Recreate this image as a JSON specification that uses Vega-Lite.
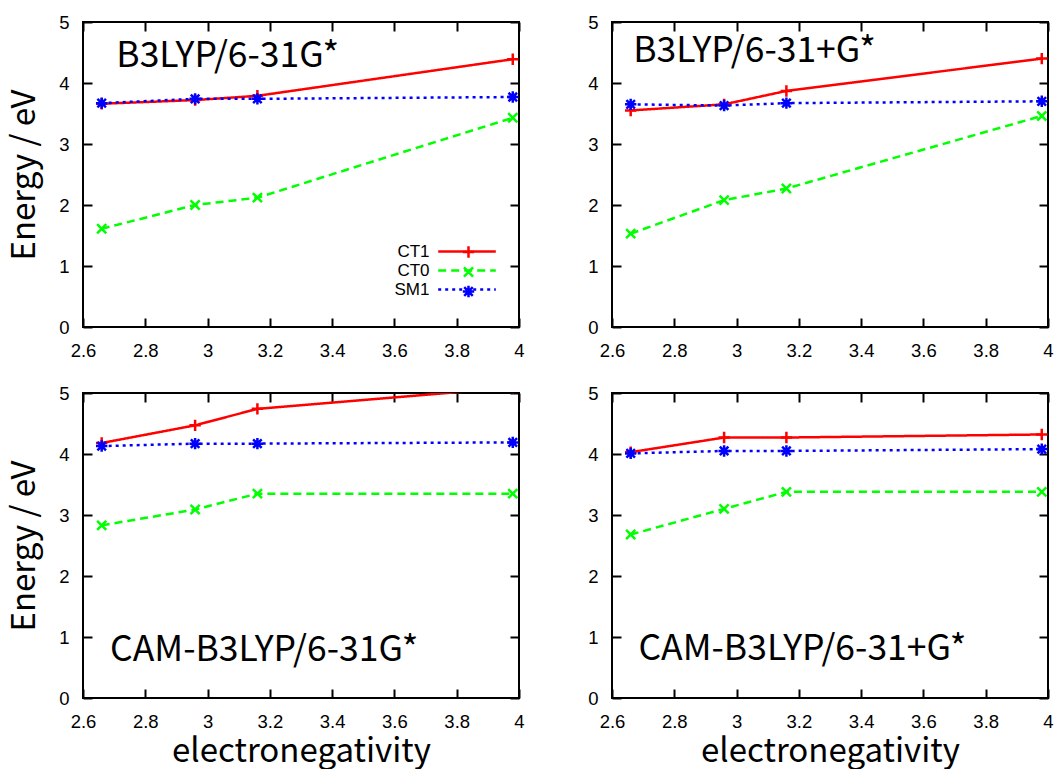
{
  "$schema": "https://vega.github.io/schema/vega-lite/v6.json",
  "background": "white",
  "padding": {"left": 7, "top": 12, "right": 0, "bottom": 0},
  "datasets": {
    "energies": [
      {"panel": "a", "series": "CT1", "x": 2.66, "energy": 3.66},
      {"panel": "a", "series": "CT1", "x": 2.96, "energy": 3.72},
      {"panel": "a", "series": "CT1", "x": 3.16, "energy": 3.79},
      {"panel": "a", "series": "CT1", "x": 3.98, "energy": 4.39},
      {"panel": "a", "series": "CT0", "x": 2.66, "energy": 1.61},
      {"panel": "a", "series": "CT0", "x": 2.96, "energy": 2.00},
      {"panel": "a", "series": "CT0", "x": 3.16, "energy": 2.12},
      {"panel": "a", "series": "CT0", "x": 3.98, "energy": 3.43},
      {"panel": "a", "series": "SM1", "x": 2.66, "energy": 3.67},
      {"panel": "a", "series": "SM1", "x": 2.96, "energy": 3.74},
      {"panel": "a", "series": "SM1", "x": 3.16, "energy": 3.74},
      {"panel": "a", "series": "SM1", "x": 3.98, "energy": 3.77},
      {"panel": "b", "series": "CT1", "x": 2.66, "energy": 3.55},
      {"panel": "b", "series": "CT1", "x": 2.96, "energy": 3.65},
      {"panel": "b", "series": "CT1", "x": 3.16, "energy": 3.87},
      {"panel": "b", "series": "CT1", "x": 3.98, "energy": 4.40},
      {"panel": "b", "series": "CT0", "x": 2.66, "energy": 1.53},
      {"panel": "b", "series": "CT0", "x": 2.96, "energy": 2.08},
      {"panel": "b", "series": "CT0", "x": 3.16, "energy": 2.27},
      {"panel": "b", "series": "CT0", "x": 3.98, "energy": 3.46},
      {"panel": "b", "series": "SM1", "x": 2.66, "energy": 3.65},
      {"panel": "b", "series": "SM1", "x": 2.96, "energy": 3.63},
      {"panel": "b", "series": "SM1", "x": 3.16, "energy": 3.67},
      {"panel": "b", "series": "SM1", "x": 3.98, "energy": 3.70},
      {"panel": "c", "series": "CT1", "x": 2.66, "energy": 4.18},
      {"panel": "c", "series": "CT1", "x": 2.96, "energy": 4.47},
      {"panel": "c", "series": "CT1", "x": 3.16, "energy": 4.74},
      {"panel": "c", "series": "CT1", "x": 3.98, "energy": 5.09},
      {"panel": "c", "series": "CT0", "x": 2.66, "energy": 2.83},
      {"panel": "c", "series": "CT0", "x": 2.96, "energy": 3.09},
      {"panel": "c", "series": "CT0", "x": 3.16, "energy": 3.35},
      {"panel": "c", "series": "CT0", "x": 3.98, "energy": 3.35},
      {"panel": "c", "series": "SM1", "x": 2.66, "energy": 4.13},
      {"panel": "c", "series": "SM1", "x": 2.96, "energy": 4.17},
      {"panel": "c", "series": "SM1", "x": 3.16, "energy": 4.17},
      {"panel": "c", "series": "SM1", "x": 3.98, "energy": 4.19},
      {"panel": "d", "series": "CT1", "x": 2.66, "energy": 4.03},
      {"panel": "d", "series": "CT1", "x": 2.96, "energy": 4.27},
      {"panel": "d", "series": "CT1", "x": 3.16, "energy": 4.27},
      {"panel": "d", "series": "CT1", "x": 3.98, "energy": 4.32},
      {"panel": "d", "series": "CT0", "x": 2.66, "energy": 2.68},
      {"panel": "d", "series": "CT0", "x": 2.96, "energy": 3.10},
      {"panel": "d", "series": "CT0", "x": 3.16, "energy": 3.38},
      {"panel": "d", "series": "CT0", "x": 3.98, "energy": 3.38},
      {"panel": "d", "series": "SM1", "x": 2.66, "energy": 4.01},
      {"panel": "d", "series": "SM1", "x": 2.96, "energy": 4.05},
      {"panel": "d", "series": "SM1", "x": 3.16, "energy": 4.05},
      {"panel": "d", "series": "SM1", "x": 3.98, "energy": 4.08}
    ]
  },
  "config": {
    "view": {"stroke": "black", "strokeWidth": 2},
    "axis": {
      "domain": false, "grid": false, "ticks": true,
      "tickColor": "black", "tickWidth": 2, "tickSize": -9,
      "labelFont": "Liberation Sans", "labelFontSize": 18.5, "labelColor": "black",
      "labelPadding": 23, "labelFlush": false, "labelOverlap": false,
      "titleFont": "Noto Sans CJK JP", "titleFontSize": 33, "titleFontWeight": "normal", "titleColor": "black"
    },
    "axisY": {"titlePadding": 17},
    "axisX": {"titlePadding": 5},
    "text": {"font": "Noto Sans CJK JP"}
  },
  "columns": 2,
  "spacing": {"row": 66, "column": 93},
  "bounds": "flush",
  "resolve": {"legend": {"shape": "independent", "stroke": "independent"}},
  "concat": [
    {
      "width": 436, "height": 305,
      "layer": [
        {
          "data": {"name": "energies"},
          "transform": [{"filter": "datum.panel === 'a'"}],
          "mark": {"type": "line", "strokeWidth": 2.5, "clip": true, "strokeCap": "butt"},
          "encoding": {
            "x": {"field": "x", "type": "quantitative", "scale": {"domain": [2.6, 4]}, "axis": {"orient": "bottom", "values": [2.6, 2.8, 3, 3.2, 3.4, 3.6, 3.8, 4], "format": "~g", "title": null}},
            "y": {"field": "energy", "type": "quantitative", "scale": {"domain": [0, 5]}, "axis": {"orient": "left", "values": [0, 1, 2, 3, 4, 5], "title": "Energy / eV"}},
            "color": {"field": "series", "type": "nominal", "scale": {"domain": ["CT1", "CT0", "SM1"], "range": ["#ff0000", "#00ff00", "#0000ff"]},
              "legend": {"orient": "none", "legendX": 374.5, "legendY": 220, "title": null, "direction": "vertical", "symbolType": "M-3.6,0H3.6", "symbolSize": 256, "symbolStrokeWidth": 2.5, "labelAlign": "right", "labelOffset": -47, "labelFontSize": 17, "labelFont": "Liberation Sans", "labelColor": "black", "rowPadding": 1, "padding": 0}},
            "strokeDash": {"field": "series", "type": "nominal", "scale": {"domain": ["CT1", "CT0", "SM1"], "range": [[1, 0], [8, 5], [3, 4]]},
              "legend": {"orient": "none", "legendX": 374.5, "legendY": 220, "title": null, "direction": "vertical", "symbolType": "M-3.6,0H3.6", "symbolSize": 256, "symbolStrokeWidth": 2.5, "labelAlign": "right", "labelOffset": -47, "labelFontSize": 17, "labelFont": "Liberation Sans", "labelColor": "black", "rowPadding": 1, "padding": 0}}
          }
        },
        {
          "data": {"name": "energies"},
          "transform": [{"filter": "datum.panel === 'a'"}],
          "mark": {"type": "point", "filled": false, "strokeWidth": 2.5, "size": 130, "clip": true, "opacity": 1},
          "encoding": {
            "x": {"field": "x", "type": "quantitative", "axis": {"orient": "top", "values": [2.6, 2.8, 3, 3.2, 3.4, 3.6, 3.8, 4], "labels": false, "title": null}},
            "y": {"field": "energy", "type": "quantitative", "axis": {"orient": "right", "values": [0, 1, 2, 3, 4, 5], "labels": false, "title": null}},
            "stroke": {"field": "series", "type": "nominal", "scale": {"domain": ["CT1", "CT0", "SM1"], "range": ["#ff0000", "#00ff00", "#0000ff"]},
              "legend": {"orient": "none", "legendX": 377, "legendY": 221.5, "title": null, "direction": "vertical", "symbolSize": 130, "symbolStrokeWidth": 2.5, "labelOpacity": 0, "labelFontSize": 17, "rowPadding": -2.5, "padding": 0}},
            "shape": {"field": "series", "type": "nominal", "scale": {"domain": ["CT1", "CT0", "SM1"], "range": ["M-1,0H1M0,-1V1", "M-0.8,-0.8L0.8,0.8M-0.8,0.8L0.8,-0.8", "M-1,0H1M0,-1V1M-0.75,-0.75L0.75,0.75M-0.75,0.75L0.75,-0.75"]},
              "legend": {"orient": "none", "legendX": 377, "legendY": 221.5, "title": null, "direction": "vertical", "symbolSize": 130, "symbolStrokeWidth": 2.5, "labelOpacity": 0, "labelFontSize": 17, "rowPadding": -2.5, "padding": 0}}
          }
        },
        {
          "data": {"values": [{"label": "B3LYP/6-31G*"}]},
          "mark": {"type": "text", "align": "left", "baseline": "alphabetic", "fontSize": 35.5, "color": "black"},
          "encoding": {
            "x": {"datum": 2.707, "type": "quantitative", "axis": null},
            "y": {"datum": 4.27, "type": "quantitative", "axis": null},
            "text": {"field": "label"}
          }
        }
      ],
      "resolve": {"axis": {"x": "independent", "y": "independent"}}
    },
    {
      "width": 436, "height": 305,
      "layer": [
        {
          "data": {"name": "energies"},
          "transform": [{"filter": "datum.panel === 'b'"}],
          "mark": {"type": "line", "strokeWidth": 2.5, "clip": true, "strokeCap": "butt"},
          "encoding": {
            "x": {"field": "x", "type": "quantitative", "scale": {"domain": [2.6, 4]}, "axis": {"orient": "bottom", "values": [2.6, 2.8, 3, 3.2, 3.4, 3.6, 3.8, 4], "format": "~g", "title": null}},
            "y": {"field": "energy", "type": "quantitative", "scale": {"domain": [0, 5]}, "axis": {"orient": "left", "values": [0, 1, 2, 3, 4, 5], "title": null}},
            "color": {"field": "series", "type": "nominal", "scale": {"domain": ["CT1", "CT0", "SM1"], "range": ["#ff0000", "#00ff00", "#0000ff"]},
              "legend": {"orient": "none", "legendX": 374.5, "legendY": 220, "title": null, "direction": "vertical", "symbolType": "M-3.6,0H3.6", "symbolSize": 256, "symbolStrokeWidth": 2.5, "labelAlign": "right", "labelOffset": -47, "labelFontSize": 17, "labelFont": "Liberation Sans", "labelColor": "black", "rowPadding": 1, "padding": 0}},
            "strokeDash": {"field": "series", "type": "nominal", "scale": {"domain": ["CT1", "CT0", "SM1"], "range": [[1, 0], [8, 5], [3, 4]]},
              "legend": {"orient": "none", "legendX": 374.5, "legendY": 220, "title": null, "direction": "vertical", "symbolType": "M-3.6,0H3.6", "symbolSize": 256, "symbolStrokeWidth": 2.5, "labelAlign": "right", "labelOffset": -47, "labelFontSize": 17, "labelFont": "Liberation Sans", "labelColor": "black", "rowPadding": 1, "padding": 0}}
          }
        },
        {
          "data": {"name": "energies"},
          "transform": [{"filter": "datum.panel === 'b'"}],
          "mark": {"type": "point", "filled": false, "strokeWidth": 2.5, "size": 130, "clip": true, "opacity": 1},
          "encoding": {
            "x": {"field": "x", "type": "quantitative", "axis": {"orient": "top", "values": [2.6, 2.8, 3, 3.2, 3.4, 3.6, 3.8, 4], "labels": false, "title": null}},
            "y": {"field": "energy", "type": "quantitative", "axis": {"orient": "right", "values": [0, 1, 2, 3, 4, 5], "labels": false, "title": null}},
            "stroke": {"field": "series", "type": "nominal", "scale": {"domain": ["CT1", "CT0", "SM1"], "range": ["#ff0000", "#00ff00", "#0000ff"]}, "legend": null},
            "shape": {"field": "series", "type": "nominal", "scale": {"domain": ["CT1", "CT0", "SM1"], "range": ["M-1,0H1M0,-1V1", "M-0.8,-0.8L0.8,0.8M-0.8,0.8L0.8,-0.8", "M-1,0H1M0,-1V1M-0.75,-0.75L0.75,0.75M-0.75,0.75L0.75,-0.75"]}, "legend": null}
          }
        },
        {
          "data": {"values": [{"label": "B3LYP/6-31+G*"}]},
          "mark": {"type": "text", "align": "left", "baseline": "alphabetic", "fontSize": 35.5, "color": "black"},
          "encoding": {
            "x": {"datum": 2.668, "type": "quantitative", "axis": null},
            "y": {"datum": 4.35, "type": "quantitative", "axis": null},
            "text": {"field": "label"}
          }
        }
      ],
      "resolve": {"axis": {"x": "independent", "y": "independent"}}
    },
    {
      "width": 436, "height": 305,
      "layer": [
        {
          "data": {"name": "energies"},
          "transform": [{"filter": "datum.panel === 'c'"}],
          "mark": {"type": "line", "strokeWidth": 2.5, "clip": true, "strokeCap": "butt"},
          "encoding": {
            "x": {"field": "x", "type": "quantitative", "scale": {"domain": [2.6, 4]}, "axis": {"orient": "bottom", "values": [2.6, 2.8, 3, 3.2, 3.4, 3.6, 3.8, 4], "format": "~g", "title": "electronegativity"}},
            "y": {"field": "energy", "type": "quantitative", "scale": {"domain": [0, 5]}, "axis": {"orient": "left", "values": [0, 1, 2, 3, 4, 5], "title": "Energy / eV"}},
            "color": {"field": "series", "type": "nominal", "scale": {"domain": ["CT1", "CT0", "SM1"], "range": ["#ff0000", "#00ff00", "#0000ff"]},
              "legend": {"orient": "none", "legendX": 374.5, "legendY": 220, "title": null, "direction": "vertical", "symbolType": "M-3.6,0H3.6", "symbolSize": 256, "symbolStrokeWidth": 2.5, "labelAlign": "right", "labelOffset": -47, "labelFontSize": 17, "labelFont": "Liberation Sans", "labelColor": "black", "rowPadding": 1, "padding": 0}},
            "strokeDash": {"field": "series", "type": "nominal", "scale": {"domain": ["CT1", "CT0", "SM1"], "range": [[1, 0], [8, 5], [3, 4]]},
              "legend": {"orient": "none", "legendX": 374.5, "legendY": 220, "title": null, "direction": "vertical", "symbolType": "M-3.6,0H3.6", "symbolSize": 256, "symbolStrokeWidth": 2.5, "labelAlign": "right", "labelOffset": -47, "labelFontSize": 17, "labelFont": "Liberation Sans", "labelColor": "black", "rowPadding": 1, "padding": 0}}
          }
        },
        {
          "data": {"name": "energies"},
          "transform": [{"filter": "datum.panel === 'c'"}],
          "mark": {"type": "point", "filled": false, "strokeWidth": 2.5, "size": 130, "clip": true, "opacity": 1},
          "encoding": {
            "x": {"field": "x", "type": "quantitative", "axis": {"orient": "top", "values": [2.6, 2.8, 3, 3.2, 3.4, 3.6, 3.8, 4], "labels": false, "title": null}},
            "y": {"field": "energy", "type": "quantitative", "axis": {"orient": "right", "values": [0, 1, 2, 3, 4, 5], "labels": false, "title": null}},
            "stroke": {"field": "series", "type": "nominal", "scale": {"domain": ["CT1", "CT0", "SM1"], "range": ["#ff0000", "#00ff00", "#0000ff"]}, "legend": null},
            "shape": {"field": "series", "type": "nominal", "scale": {"domain": ["CT1", "CT0", "SM1"], "range": ["M-1,0H1M0,-1V1", "M-0.8,-0.8L0.8,0.8M-0.8,0.8L0.8,-0.8", "M-1,0H1M0,-1V1M-0.75,-0.75L0.75,0.75M-0.75,0.75L0.75,-0.75"]}, "legend": null}
          }
        },
        {
          "data": {"values": [{"label": "CAM-B3LYP/6-31G*"}]},
          "mark": {"type": "text", "align": "left", "baseline": "alphabetic", "fontSize": 35.5, "color": "black"},
          "encoding": {
            "x": {"datum": 2.687, "type": "quantitative", "axis": null},
            "y": {"datum": 0.61, "type": "quantitative", "axis": null},
            "text": {"field": "label"}
          }
        }
      ],
      "resolve": {"axis": {"x": "independent", "y": "independent"}}
    },
    {
      "width": 436, "height": 305,
      "layer": [
        {
          "data": {"name": "energies"},
          "transform": [{"filter": "datum.panel === 'd'"}],
          "mark": {"type": "line", "strokeWidth": 2.5, "clip": true, "strokeCap": "butt"},
          "encoding": {
            "x": {"field": "x", "type": "quantitative", "scale": {"domain": [2.6, 4]}, "axis": {"orient": "bottom", "values": [2.6, 2.8, 3, 3.2, 3.4, 3.6, 3.8, 4], "format": "~g", "title": "electronegativity"}},
            "y": {"field": "energy", "type": "quantitative", "scale": {"domain": [0, 5]}, "axis": {"orient": "left", "values": [0, 1, 2, 3, 4, 5], "title": null}},
            "color": {"field": "series", "type": "nominal", "scale": {"domain": ["CT1", "CT0", "SM1"], "range": ["#ff0000", "#00ff00", "#0000ff"]},
              "legend": {"orient": "none", "legendX": 374.5, "legendY": 220, "title": null, "direction": "vertical", "symbolType": "M-3.6,0H3.6", "symbolSize": 256, "symbolStrokeWidth": 2.5, "labelAlign": "right", "labelOffset": -47, "labelFontSize": 17, "labelFont": "Liberation Sans", "labelColor": "black", "rowPadding": 1, "padding": 0}},
            "strokeDash": {"field": "series", "type": "nominal", "scale": {"domain": ["CT1", "CT0", "SM1"], "range": [[1, 0], [8, 5], [3, 4]]},
              "legend": {"orient": "none", "legendX": 374.5, "legendY": 220, "title": null, "direction": "vertical", "symbolType": "M-3.6,0H3.6", "symbolSize": 256, "symbolStrokeWidth": 2.5, "labelAlign": "right", "labelOffset": -47, "labelFontSize": 17, "labelFont": "Liberation Sans", "labelColor": "black", "rowPadding": 1, "padding": 0}}
          }
        },
        {
          "data": {"name": "energies"},
          "transform": [{"filter": "datum.panel === 'd'"}],
          "mark": {"type": "point", "filled": false, "strokeWidth": 2.5, "size": 130, "clip": true, "opacity": 1},
          "encoding": {
            "x": {"field": "x", "type": "quantitative", "axis": {"orient": "top", "values": [2.6, 2.8, 3, 3.2, 3.4, 3.6, 3.8, 4], "labels": false, "title": null}},
            "y": {"field": "energy", "type": "quantitative", "axis": {"orient": "right", "values": [0, 1, 2, 3, 4, 5], "labels": false, "title": null}},
            "stroke": {"field": "series", "type": "nominal", "scale": {"domain": ["CT1", "CT0", "SM1"], "range": ["#ff0000", "#00ff00", "#0000ff"]}, "legend": null},
            "shape": {"field": "series", "type": "nominal", "scale": {"domain": ["CT1", "CT0", "SM1"], "range": ["M-1,0H1M0,-1V1", "M-0.8,-0.8L0.8,0.8M-0.8,0.8L0.8,-0.8", "M-1,0H1M0,-1V1M-0.75,-0.75L0.75,0.75M-0.75,0.75L0.75,-0.75"]}, "legend": null}
          }
        },
        {
          "data": {"values": [{"label": "CAM-B3LYP/6-31+G*"}]},
          "mark": {"type": "text", "align": "left", "baseline": "alphabetic", "fontSize": 35.5, "color": "black"},
          "encoding": {
            "x": {"datum": 2.685, "type": "quantitative", "axis": null},
            "y": {"datum": 0.62, "type": "quantitative", "axis": null},
            "text": {"field": "label"}
          }
        }
      ],
      "resolve": {"axis": {"x": "independent", "y": "independent"}}
    }
  ]
}
